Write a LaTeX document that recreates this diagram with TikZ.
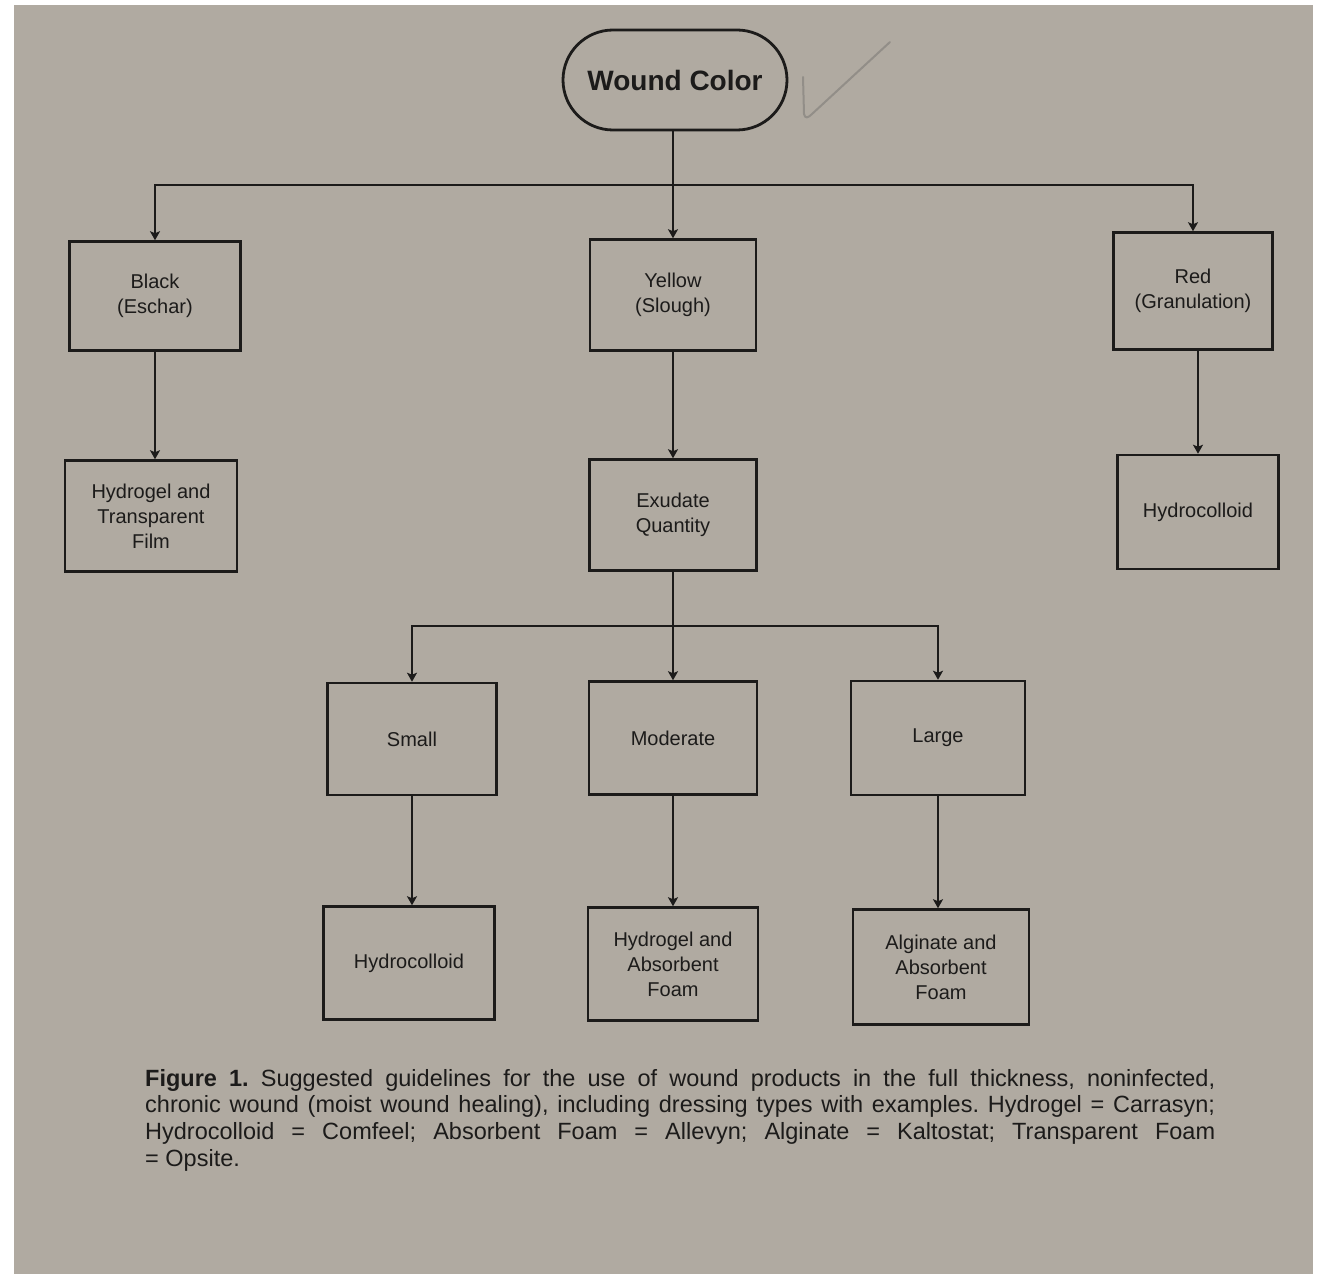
\documentclass[tikz,border=0pt]{standalone}
\usepackage{fontspec}
\setmainfont{Liberation Sans}
\usetikzlibrary{arrows.meta}
\definecolor{page}{RGB}{176,170,161}
\definecolor{ink}{RGB}{28,27,26}
\definecolor{pencil}{RGB}{146,142,136}
\begin{document}
\begin{tikzpicture}[x=1pt,y=-1pt,
  box/.style={draw=ink, line width=2.5pt, inner sep=0pt, minimum width=170pt, minimum height=112pt,
    align=center, text=ink, font=\fontsize{20}{25}\selectfont},
  pill/.style={draw=ink, line width=2.8pt, rounded corners=50pt, inner sep=0pt, minimum width=224pt,
    minimum height=100pt, text=ink, font=\fontsize{28}{32}\selectfont\bfseries},
  conn/.style={draw=ink, line width=2.5pt},
  arr/.style={conn, -{Stealth[length=9pt,width=10pt,inset=2pt]}}
]
\useasboundingbox (0,0) rectangle (1320,1276);
\fill[white] (0,0) rectangle (1320,1276);
\fill[page] (14,5) rectangle (1313,1274);

% nodes
\node[pill] (wc) at (675,80) {Wound Color};
\node[box, minimum width=171pt, minimum height=109pt] (black) at (155,296) {Black\\(Eschar)};
\node[box, minimum width=166pt, minimum height=111pt] (yellow) at (673,295) {Yellow\\(Slough)};
\node[box, minimum width=159pt, minimum height=117pt] (red) at (1193,291) {Red\\(Granulation)};
\node[box, minimum width=172pt, minimum height=111pt] (htf) at (151,516) {Hydrogel and\\Transparent\\Film};
\node[box, minimum width=167pt, minimum height=111pt] (exu) at (673,515) {Exudate\\Quantity};
\node[box, minimum width=161pt, minimum height=114pt] (hcr) at (1198,512) {Hydrocolloid};
\node[box, minimum width=169pt, minimum height=112pt] (small) at (412,739) {Small};
\node[box, minimum width=168pt, minimum height=113pt] (mod) at (673,738) {Moderate};
\node[box, minimum width=174pt, minimum height=114pt] (large) at (938,738) {Large};
\node[box, minimum width=171pt, minimum height=113pt] (hcs) at (409,963) {Hydrocolloid};
\node[box, minimum width=170pt, minimum height=113pt] (haf) at (673,964) {Hydrogel and\\Absorbent\\Foam};
\node[box, minimum width=176pt, minimum height=115pt] (aaf) at (941,967) {Alginate and\\Absorbent\\Foam};

% junctions
\coordinate (j1) at (673,185);
\coordinate (j2) at (673,626);

% connectors
\draw[arr] (wc.south -| yellow.north) -- (yellow.north);
\draw[arr] (j1) -| (black.north);
\draw[arr] (j1) -| (red.north);
\draw[arr] (black.south) -- (black.south |- htf.north);
\draw[arr] (yellow.south) -- (exu.north);
\draw[arr] (red.south -| hcr.north) -- (hcr.north);
\draw[arr] (exu.south) -- (mod.north);
\draw[arr] (j2) -| (small.north);
\draw[arr] (j2) -| (large.north);
\draw[arr] (small.south) -- (small.south |- hcs.north);
\draw[arr] (mod.south) -- (haf.north);
\draw[arr] (large.south) -- (large.south |- aaf.north);

% pencil check mark
\draw[pencil, line width=2pt, line cap=round, line join=round]
  (803,77) -- (804,114) .. controls (805,119) and (808,118) .. (812,114) -- (890,42);

% caption
\node[anchor=north west, inner sep=0pt, text width=1070pt, align=justify, text=ink,
  font=\fontsize{23.5}{26.7}\selectfont\frenchspacing] (cap) at (145,1069)
{\textbf{Figure 1.} Suggested guidelines for the use of wound products in the full thickness, noninfected,\linebreak
chronic wound (moist wound healing), including dressing types with examples. Hydrogel = Carrasyn;\linebreak
Hydrocolloid = Comfeel; Absorbent Foam = Allevyn; Alginate = Kaltostat; Transparent Foam\linebreak
= Opsite.};
\end{tikzpicture}
\end{document}
